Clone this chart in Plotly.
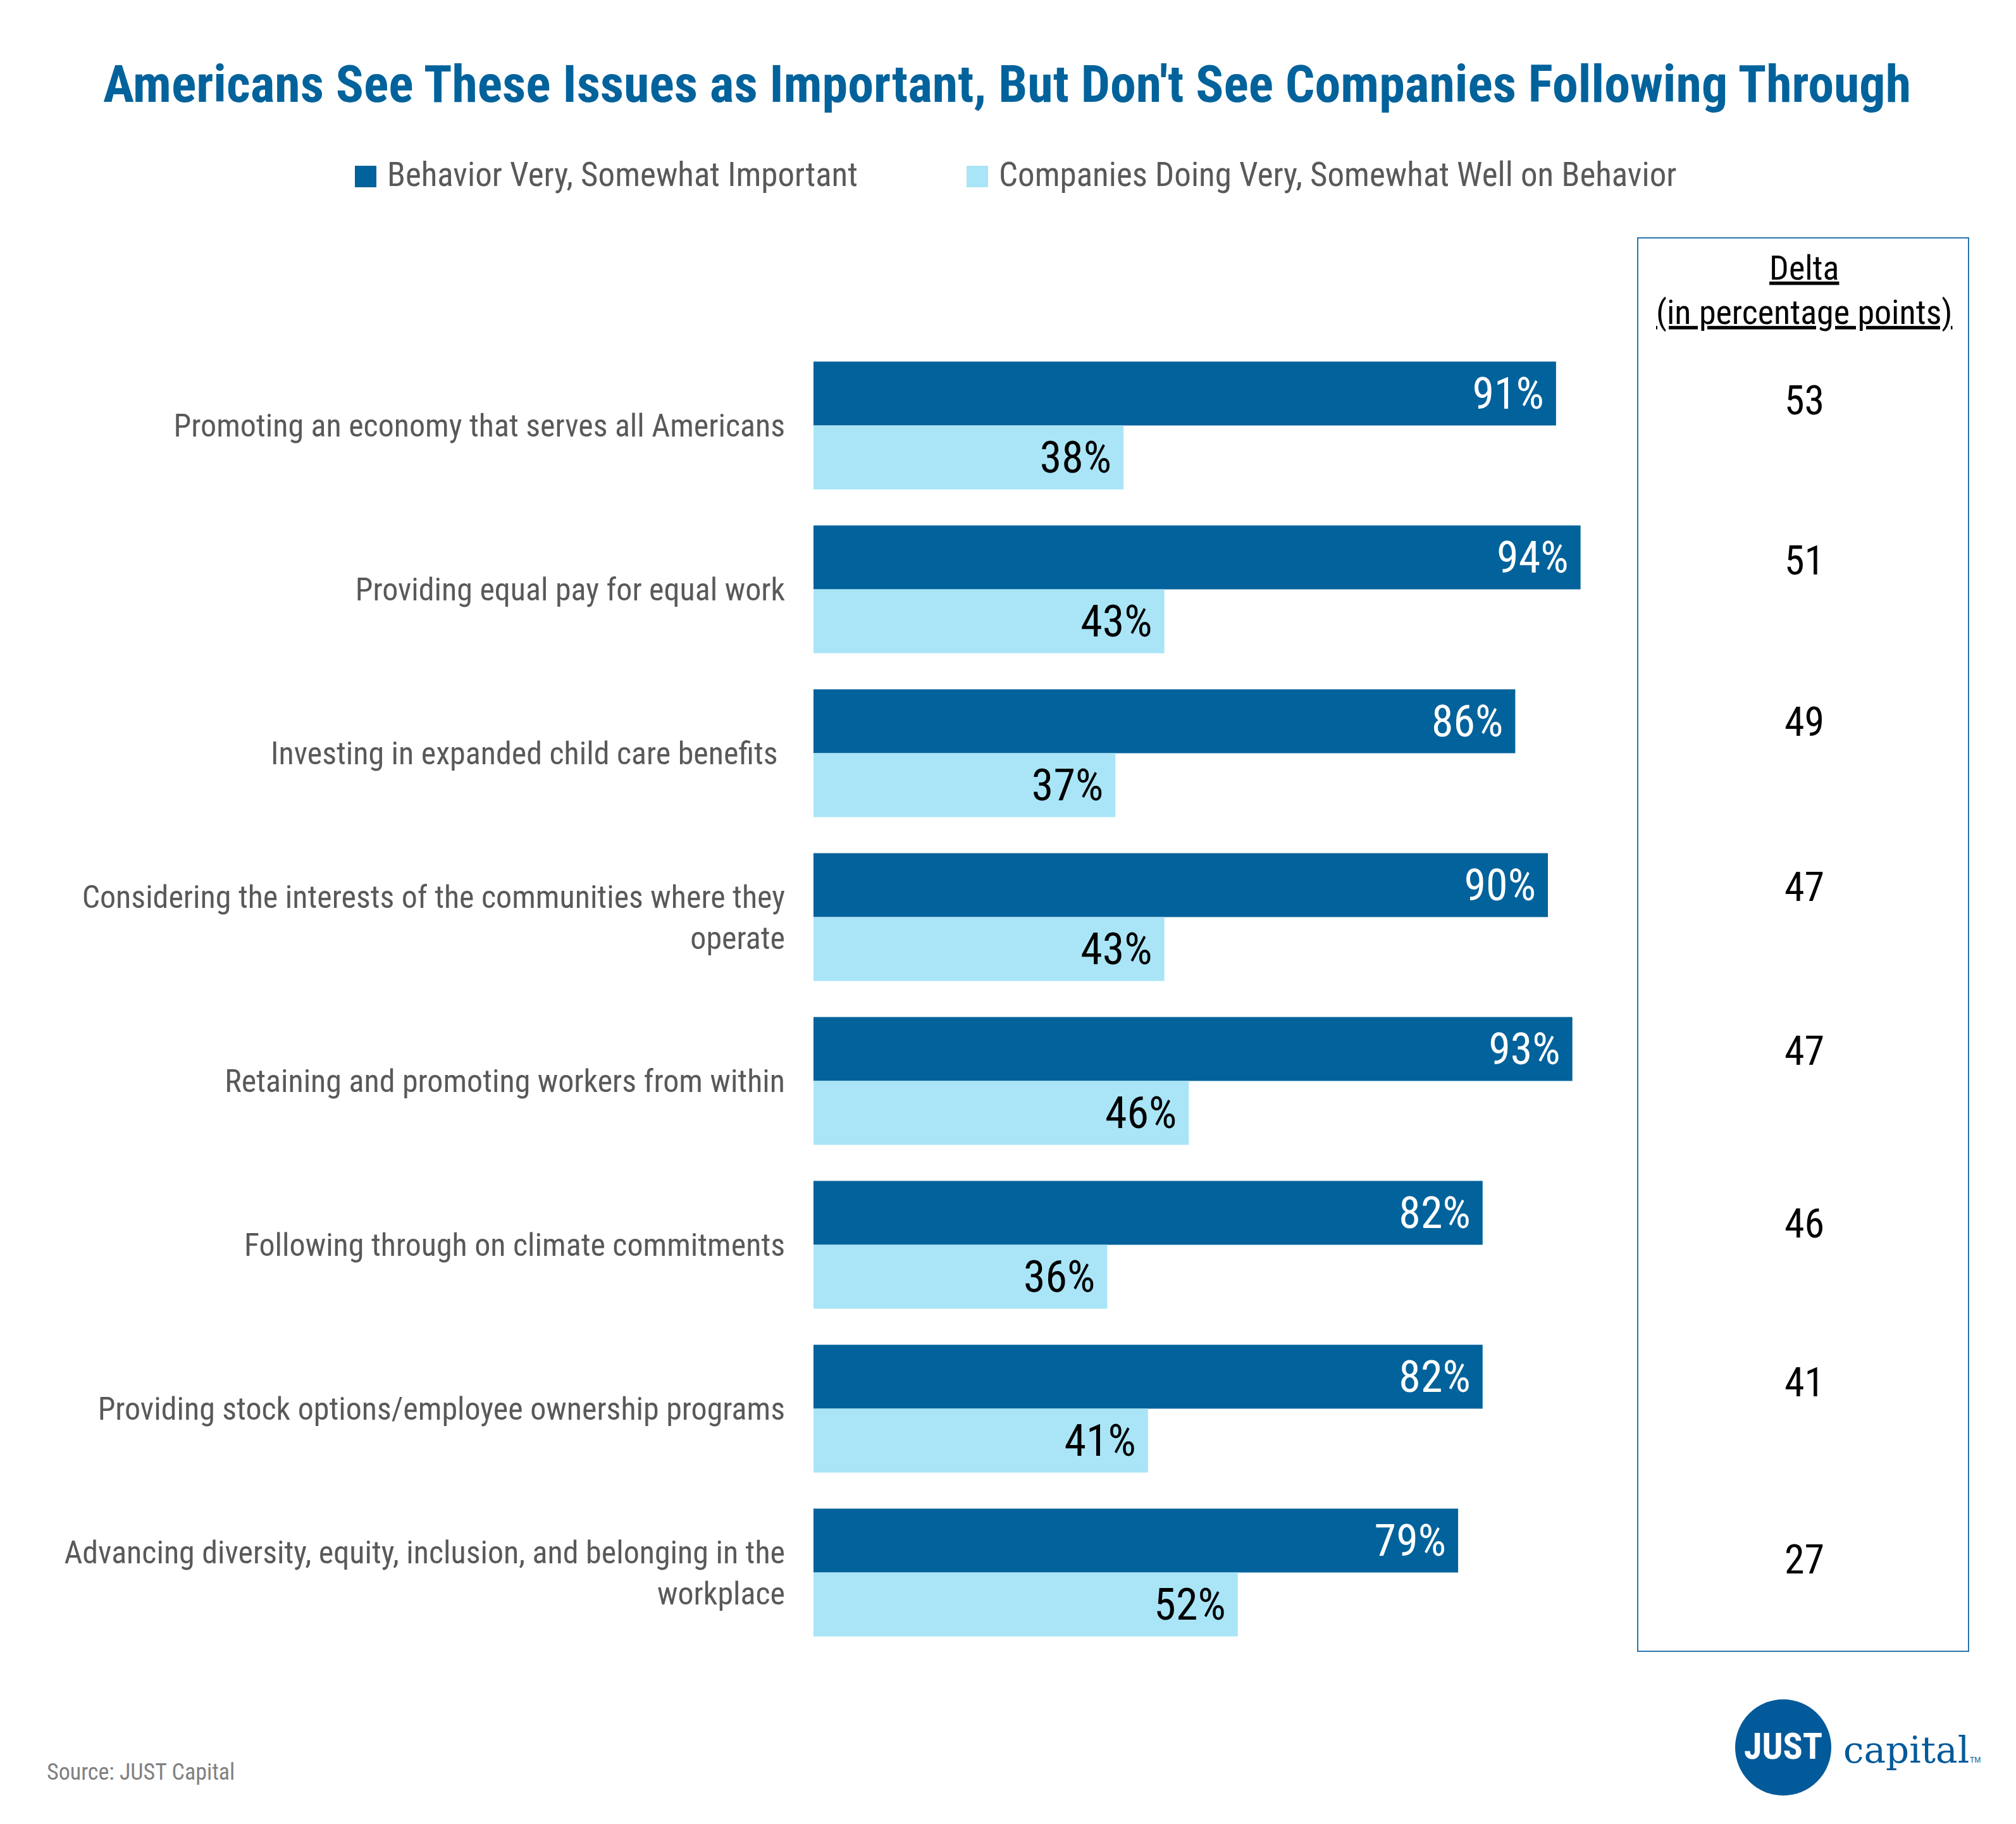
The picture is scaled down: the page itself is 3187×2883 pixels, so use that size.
import plotly.graph_objects as go

# ---------------- data ----------------
categories = [
    "Promoting an economy that serves all Americans",
    "Providing equal pay for equal work",
    "Investing in expanded child care benefits ",
    "Considering the interests of the communities where they<br>operate",
    "Retaining and promoting workers from within",
    "Following through on climate commitments",
    "Providing stock options/employee ownership programs",
    "Advancing diversity, equity, inclusion, and belonging in the<br>workplace",
]
important = [91, 94, 86, 90, 93, 82, 82, 79]
doing_well = [38, 43, 37, 43, 46, 36, 41, 52]
series_names = [
    "Behavior Very, Somewhat Important",
    "Companies Doing Very, Somewhat Well on Behavior",
]
delta = [a - b for a, b in zip(important, doing_well)]

title_text = "Americans See These Issues as Important, But Don't See Companies Following Through"
delta_header = "<u>Delta</u><br><u>(in percentage points)</u>"
source_text = "Source: JUST Capital"

# ---------------- style ----------------
W, H = 3187, 2883
FONT = "Roboto Condensed, Liberation Sans Narrow, DejaVu Sans Condensed, sans-serif"
DARK = "#02629B"
LIGHT = "#A9E5F7"
GRAY = "#595959"
BOX = "#2A75AE"


def px(x):
    return x / W


def py(y):
    return 1 - y / H


fig = go.Figure()
fig.add_trace(go.Bar(
    y=categories, x=important, name=series_names[0], orientation="h",
    marker=dict(color=DARK, line=dict(width=0)),
    texttemplate="%{x}% ", textposition="inside", insidetextanchor="end",
    textangle=0, constraintext="none",
    textfont=dict(family=FONT, size=70, color="white"),
    showlegend=False,
))
fig.add_trace(go.Bar(
    y=categories, x=doing_well, name=series_names[1], orientation="h",
    marker=dict(color=LIGHT, line=dict(width=0)),
    texttemplate="%{x}% ", textposition="inside", insidetextanchor="end",
    textangle=0, constraintext="none",
    textfont=dict(family=FONT, size=70, color="black"),
    showlegend=False,
))

annotations = []
shapes = []

# title
annotations.append(dict(
    text="<b>" + title_text + "</b>", x=px(1592), y=py(133), xref="paper", yref="paper",
    xanchor="center", yanchor="middle", showarrow=False,
    font=dict(family=FONT, size=82, color=DARK),
))

# manual legend
leg = [(561, 610, DARK, series_names[0]), (1528, 1577, LIGHT, series_names[1])]
for sx, tx, col, name in leg:
    shapes.append(dict(type="rect", xref="paper", yref="paper",
                       x0=px(sx), x1=px(sx + 34), y0=py(296), y1=py(262),
                       fillcolor=col, line=dict(width=0)))
    annotations.append(dict(
        text=name, x=px(tx), y=py(276), xref="paper", yref="paper",
        xanchor="left", yanchor="middle", showarrow=False,
        font=dict(family=FONT, size=53, color=GRAY),
    ))

# delta box
shapes.append(dict(type="rect", xref="paper", yref="paper",
                   x0=px(2589), x1=px(3112), y0=py(2610), y1=py(376),
                   line=dict(color=BOX, width=2), fillcolor="rgba(0,0,0,0)"))
annotations.append(dict(
    text=delta_header, x=px(2852), y=py(458), xref="paper", yref="paper",
    xanchor="center", yanchor="middle", showarrow=False,
    font=dict(family=FONT, size=54, color="black"),
))
delta_shift = [39, 45, 49, 47, 47, 33, 41, 20]
for cat, d, s in zip(categories, delta, delta_shift):
    annotations.append(dict(
        text=str(d), x=px(2852), y=cat, xref="paper", yref="y",
        xanchor="center", yanchor="middle", yshift=s, showarrow=False,
        font=dict(family=FONT, size=64, color="black"),
    ))

# source
annotations.append(dict(
    text=source_text, x=px(72), y=py(2801), xref="paper", yref="paper",
    xanchor="left", yanchor="middle", showarrow=False,
    font=dict(family=FONT, size=36, color="#808080"),
))

# logo
shapes.append(dict(type="circle", xref="paper", yref="paper",
                   x0=px(2743), x1=px(2895), y0=py(2838), y1=py(2686),
                   fillcolor="#035A9A", line=dict(width=0)))
annotations.append(dict(
    text="<b>JUST</b>", x=px(2819), y=py(2760), xref="paper", yref="paper",
    xanchor="center", yanchor="middle", showarrow=False,
    font=dict(family=FONT, size=58, color="white"),
))
annotations.append(dict(
    text="capital", x=px(2912), y=py(2766), xref="paper", yref="paper",
    xanchor="left", yanchor="middle", showarrow=False,
    font=dict(family="DejaVu Serif, Liberation Serif, serif", size=58, color="#035A9A"),
))
annotations.append(dict(
    text="TM", x=px(3112), y=py(2782), xref="paper", yref="paper",
    xanchor="left", yanchor="middle", showarrow=False,
    font=dict(family="Liberation Sans, sans-serif", size=12, color="#035A9A"),
))

fig.update_layout(
    template="none",
    width=W, height=H,
    margin=dict(l=0, r=0, t=0, b=0, autoexpand=False),
    paper_bgcolor="white", plot_bgcolor="white",
    barmode="group", bargap=0.22, bargroupgap=0,
    showlegend=False,
    annotations=annotations, shapes=shapes,
    xaxis=dict(domain=[px(1286), px(2576)], range=[0, 100], visible=False,
               automargin=False, fixedrange=True),
    yaxis=dict(domain=[py(2615), py(543)], autorange="reversed",
               type="category", showgrid=False, showline=False, zeroline=False,
               automargin=False, ticks="", ticklabelstandoff=44,
               tickfont=dict(family=FONT, size=50, color=GRAY)),
)

fig.write_html("out.html")
